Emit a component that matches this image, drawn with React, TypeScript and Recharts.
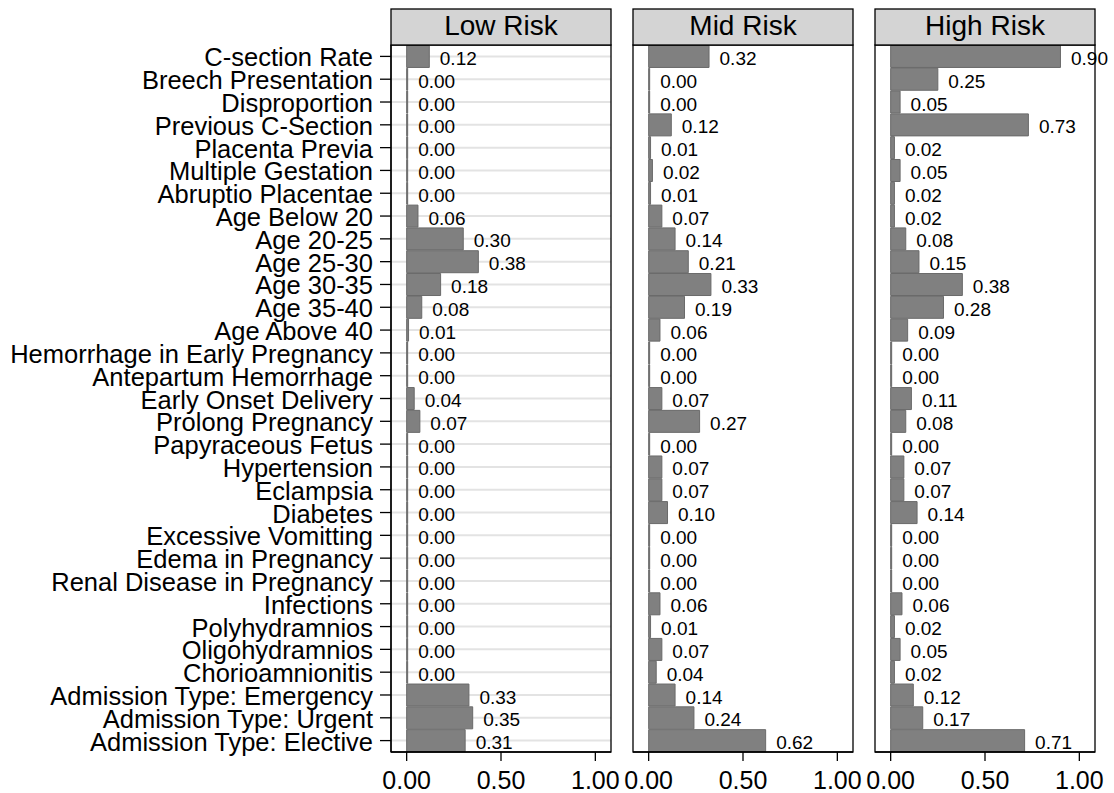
import React from 'react';
import { BarChart, Bar, XAxis, YAxis, CartesianGrid, LabelList } from 'recharts';

const categories = [
  'C-section Rate',
  'Breech Presentation',
  'Disproportion',
  'Previous C-Section',
  'Placenta Previa',
  'Multiple Gestation',
  'Abruptio Placentae',
  'Age Below 20',
  'Age 20-25',
  'Age 25-30',
  'Age 30-35',
  'Age 35-40',
  'Age Above 40',
  'Hemorrhage in Early Pregnancy',
  'Antepartum Hemorrhage',
  'Early Onset Delivery',
  'Prolong Pregnancy',
  'Papyraceous Fetus',
  'Hypertension',
  'Eclampsia',
  'Diabetes',
  'Excessive Vomitting',
  'Edema in Pregnancy',
  'Renal Disease in Pregnancy',
  'Infections',
  'Polyhydramnios',
  'Oligohydramnios',
  'Chorioamnionitis',
  'Admission Type: Emergency',
  'Admission Type: Urgent',
  'Admission Type: Elective',
];

const lowRisk = [0.12, 0, 0, 0, 0, 0, 0, 0.06, 0.30, 0.38, 0.18, 0.08, 0.01, 0, 0, 0.04, 0.07, 0, 0, 0, 0, 0, 0, 0, 0, 0, 0, 0, 0.33, 0.35, 0.31];
const midRisk = [0.32, 0, 0, 0.12, 0.01, 0.02, 0.01, 0.07, 0.14, 0.21, 0.33, 0.19, 0.06, 0, 0, 0.07, 0.27, 0, 0.07, 0.07, 0.10, 0, 0, 0, 0.06, 0.01, 0.07, 0.04, 0.14, 0.24, 0.62];
const highRisk = [0.90, 0.25, 0.05, 0.73, 0.02, 0.05, 0.02, 0.02, 0.08, 0.15, 0.38, 0.28, 0.09, 0, 0, 0.11, 0.08, 0, 0.07, 0.07, 0.14, 0, 0, 0, 0.06, 0.02, 0.05, 0.02, 0.12, 0.17, 0.71];

const panelTitles = ['Low Risk', 'Mid Risk', 'High Risk'];
const panelKeys = ['low', 'mid', 'high'];
const xTicks = [0, 0.5, 1];
const xDomain: [number, number] = [-0.083, 1.083];

const data = categories.map((c, i) => ({
  category: c,
  low: lowRisk[i],
  mid: midRisk[i],
  high: highRisk[i],
}));

const FONT = '"Liberation Sans", Arial, Helvetica, sans-serif';
const W = 1114;
const H = 793;
const PANEL_LEFT = [391, 633, 875];
const PANEL_W = 220;
const PLOT_TOP = 45;
const PLOT_BOTTOM = 752;
const HEADER_TOP = 9;

const YTick = (props: any) => {
  const { x, y, payload } = props;
  return (
    <text x={x} y={y} dy={10} textAnchor="end" fontSize={25.5} fontFamily={FONT} fill="#000">
      {payload.value}
    </text>
  );
};

const ValueLabel = (props: any) => {
  const { x, y, width, height, value } = props;
  return (
    <text
      x={Number(x) + Number(width) + 10.5}
      y={Number(y) + Number(height) / 2 + 8.5}
      fontSize={19}
      fontFamily={FONT}
      fill="#000"
    >
      {Number(value).toFixed(2)}
    </text>
  );
};

function Panel({ index }: { index: number }) {
  const left = PANEL_LEFT[index];
  const first = index === 0;
  const yWidth = first ? left : 0;
  return (
    <div style={{ position: 'absolute', left: 0, top: 0 }}>
      <BarChart
        width={W}
        height={H}
        data={data}
        layout="vertical"
        barCategoryGap="2%"
        margin={{ top: PLOT_TOP, bottom: 0, left: first ? 0 : left, right: W - left - PANEL_W }}
      >
        <CartesianGrid horizontal vertical={false} stroke="#e3e3e3" strokeWidth={2} />
        <XAxis
          type="number"
          domain={xDomain}
          ticks={xTicks}
          allowDataOverflow
          height={H - PLOT_BOTTOM}
          tickFormatter={(v: number) => v.toFixed(2)}
          tickSize={9}
          tickMargin={10}
          axisLine={{ stroke: '#000', strokeWidth: 1.3 }}
          tickLine={{ stroke: '#000', strokeWidth: 1.3 }}
          tick={{ fontSize: 25, fontFamily: FONT, fill: '#000' }}
        />
        <YAxis
          type="category"
          dataKey="category"
          width={yWidth}
          interval={0}
          tickSize={first ? 11 : 0}
          tickMargin={7}
          axisLine={{ stroke: '#000', strokeWidth: 1.3 }}
          tickLine={first ? { stroke: '#000', strokeWidth: 1.3 } : false}
          tick={first ? <YTick /> : false}
        />
        <Bar
          dataKey={panelKeys[index]}
          fill="#808080"
          stroke="#6a6a6a"
          strokeWidth={1}
          minPointSize={1}
          isAnimationActive={false}
        >
          <LabelList dataKey={panelKeys[index]} content={<ValueLabel />} />
        </Bar>
      </BarChart>
    </div>
  );
}

export default function App() {
  return (
    <div style={{ position: 'absolute', left: 0, top: 0, width: W, height: H, background: '#fff' }}>
      {[0, 1, 2].map((i) => (
        <Panel key={i} index={i} />
      ))}
      <svg width={W} height={H} style={{ position: 'absolute', left: 0, top: 0, pointerEvents: 'none' }}>
        {PANEL_LEFT.map((l, i) => (
          <g key={i}>
            <rect
              x={l}
              y={PLOT_TOP}
              width={PANEL_W}
              height={PLOT_BOTTOM - PLOT_TOP}
              fill="none"
              stroke="#000"
              strokeWidth={1.3}
            />
            <rect
              x={l}
              y={HEADER_TOP}
              width={PANEL_W}
              height={PLOT_TOP - HEADER_TOP}
              fill="#d4d4d4"
              stroke="#000"
              strokeWidth={1.3}
            />
            <text x={l + PANEL_W / 2} y={35} textAnchor="middle" fontSize={28} fontFamily={FONT} fill="#000">
              {panelTitles[i]}
            </text>
          </g>
        ))}
      </svg>
    </div>
  );
}
